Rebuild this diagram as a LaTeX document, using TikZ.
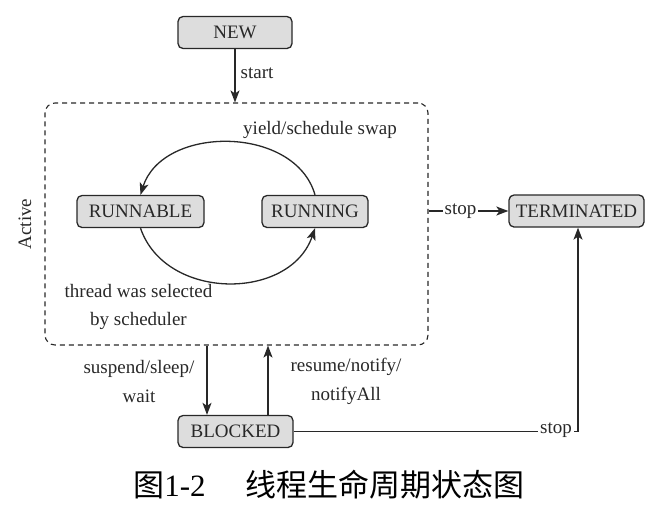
\documentclass[tikz,border=0pt]{standalone}
\usepackage{fontspec}
\setmainfont{Liberation Serif}
\newfontfamily\serifen{Liberation Serif}
\newfontfamily\cjk{Noto Sans CJK SC}
\usetikzlibrary{arrows.meta}
\definecolor{boxfill}{RGB}{221,221,221}
\definecolor{ink}{RGB}{40,40,40}
\begin{document}
\begin{tikzpicture}[x=1pt,y=-1pt, font=\serifen\fontsize{19}{23}\selectfont,
  state/.style={draw=ink, fill=boxfill, rounded corners=5pt, line width=1.3pt, text=ink, inner sep=0pt, minimum height=32pt},
  conn/.style={draw=ink, line width=1.3pt, -{Stealth[length=12pt,width=9pt,inset=3pt]}},
  plain/.style={draw=ink, line width=1.3pt},
  lbl/.style={text=ink, inner sep=1pt},
  lblw/.style={text=ink, inner sep=2pt, fill=white}]
\useasboundingbox (0,0) rectangle (671,531);

% states
\node[state, minimum width=114pt] (new) at (235,32.5) {NEW};
\node[draw=ink, dashed, dash pattern=on 5pt off 4pt, rounded corners=10pt, line width=1.1pt,
      minimum width=383pt, minimum height=242pt, inner sep=0pt] (active) at (236.5,224) {};
\node[state, minimum width=127pt] (runnable) at (140.5,211.5) {RUNNABLE};
\node[state, minimum width=106pt] (running) at (315,211.5) {RUNNING};
\node[state, minimum width=135pt] (terminated) at (576.5,211) {TERMINATED};
\node[state, minimum width=115pt] (blocked) at (235.5,431.5) {BLOCKED};

% Active label
\node[lbl, rotate=90] (activelbl) at (25,224) {Active};

% start
\draw[conn] (new.south) -- (new.south |- active.north)
  node[lbl, right, pos=0.45, xshift=4pt] (startlbl) {start};

% inner cycle
\draw[conn] (running.north) .. controls +(-20,-70) and +(22,-70) .. (runnable.north);
\draw[conn] (runnable.south) .. controls +(25,73) and +(-25,73) .. (running.south);
\node[lbl] (yieldlbl) at (320,130) {yield/schedule swap};
\node[lbl, align=center, font=\serifen\fontsize{19}{28}\selectfont] (selectedlbl) at (138.5,307) {thread was selected\\by scheduler};

% stop from active
\draw[conn] (active.east |- terminated.west) -- (terminated.west)
  node[lblw, pos=0.4] (stop1) {stop};

% blocked arrows
\coordinate (dtop) at ([xshift=-28.5pt]blocked.north |- active.south);
\coordinate (dbot) at ([xshift=-28.5pt]blocked.north);
\coordinate (ubot) at ([xshift=32.5pt]blocked.north);
\coordinate (utop) at ([xshift=32.5pt]blocked.north |- active.south);
\draw[conn] (dtop) -- (dbot);
\draw[conn] (ubot) -- (utop);
\node[lbl, align=center, font=\serifen\fontsize{19}{29}\selectfont] (suspendlbl) at (139,381.5) {suspend/sleep/\\wait};
\node[lbl, align=center, font=\serifen\fontsize{19}{29}\selectfont] (resumelbl) at (346,381.5) {resume/notify/\\notifyAll};

% stop from blocked
\coordinate (corner) at ([xshift=1.5pt]terminated.south |- blocked.east);
\draw[plain] (blocked.east) -- (corner);
\draw[conn] (corner) -- ([xshift=1.5pt]terminated.south);
\node[lblw] (stop2) at (556,430) {stop};

% caption
\node[text=black, inner sep=0pt, font=\cjk\fontsize{31}{31}\selectfont] (caption) at (329,485)
  {图{\serifen 1-2}\hspace{40pt}线程生命周期状态图};
\end{tikzpicture}
\end{document}
